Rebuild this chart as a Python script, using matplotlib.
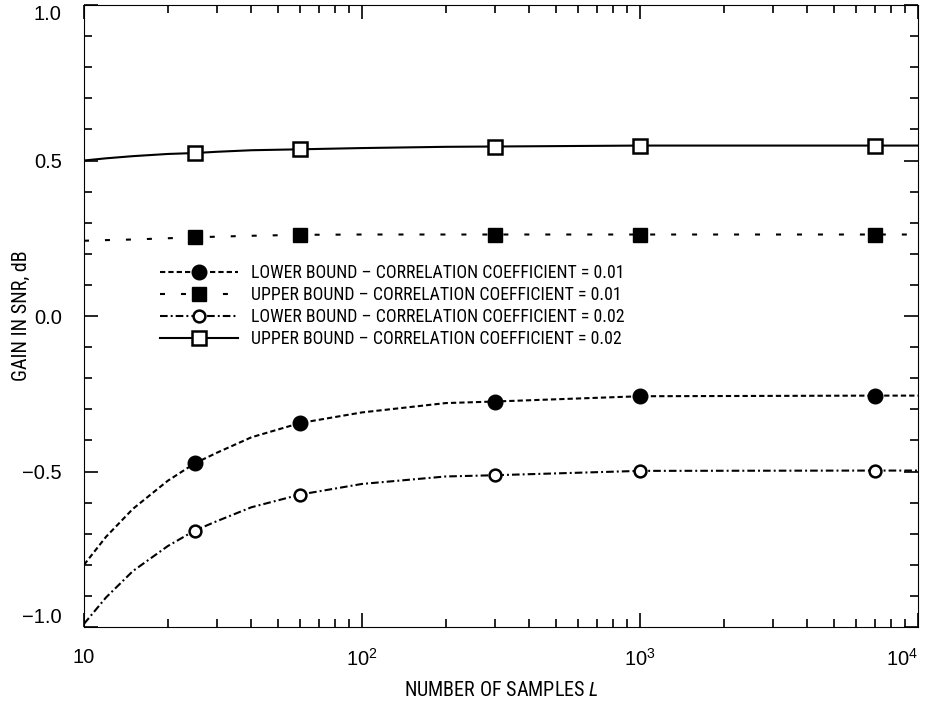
import matplotlib
matplotlib.use("Agg")
import matplotlib.pyplot as plt
from matplotlib.ticker import FixedLocator, LogLocator, NullFormatter, MultipleLocator

plt.rcParams['font.family'] = ['Roboto Condensed', 'Liberation Sans', 'DejaVu Sans']
plt.rcParams['mathtext.fontset'] = 'custom'
plt.rcParams['mathtext.rm'] = 'Liberation Sans'
plt.rcParams['mathtext.it'] = 'Roboto Condensed:italic'
plt.rcParams['lines.scale_dashes'] = False

# ---- data ----
L_curve = [10, 12, 15, 20, 25, 30, 40, 60, 100, 200, 300, 1000, 7000, 10000]
lower_001 = [-0.80, -0.71, -0.62, -0.53, -0.474, -0.44, -0.39, -0.344, -0.31, -0.28, -0.275, -0.258, -0.256, -0.256]
lower_002 = [-0.99, -0.905, -0.82, -0.74, -0.69, -0.66, -0.615, -0.574, -0.54, -0.516, -0.512, -0.498, -0.497, -0.497]
upper_001 = [0.242, 0.244, 0.246, 0.250, 0.253, 0.255, 0.258, 0.261, 0.262, 0.262, 0.262, 0.262, 0.262, 0.262]
upper_002 = [0.500, 0.507, 0.514, 0.521, 0.524, 0.528, 0.533, 0.536, 0.540, 0.544, 0.545, 0.548, 0.548, 0.548]
marker_L = [25, 60, 300, 1000, 7000]

labels = [
    "LOWER BOUND \u2013 CORRELATION COEFFICIENT = 0.01",
    "UPPER BOUND \u2013 CORRELATION COEFFICIENT = 0.01",
    "LOWER BOUND \u2013 CORRELATION COEFFICIENT = 0.02",
    "UPPER BOUND \u2013 CORRELATION COEFFICIENT = 0.02",
]
y_ticks = [-1.0, -0.5, 0.0, 0.5, 1.0]
y_ticklabels = ["\u22121.0", "\u22120.5", "0.0", "0.5", "1.0"]
x_ticks = [10, 100, 1000, 10000]
x_ticklabels = ["10", "$10^2$", "$10^3$", "$10^4$"]

fig = plt.figure(figsize=(9.29, 7.02), dpi=100)
ax = fig.add_axes([84/929, 1-627/702, (918-84)/929, (627-5)/702])

mk_idx = [i for i, v in enumerate(L_curve) if v in marker_L]
lw = 1.5
ax.plot(L_curve, lower_001, color='black', lw=lw, linestyle=(0, (3.8, 2.2)),
        marker='o', markersize=10.5, markerfacecolor='black', markevery=mk_idx, label=labels[0])
ax.plot(L_curve, upper_001, color='black', lw=lw, linestyle=(0, (3.6, 11.5)),
        marker='s', markersize=10, markerfacecolor='black', markevery=mk_idx, label=labels[1])
ax.plot(L_curve, lower_002, color='black', lw=lw, linestyle=(0, (5.5, 2.2, 1.4, 2.2)),
        marker='o', markersize=8.5, markerfacecolor='white', markeredgewidth=1.8,
        markevery=mk_idx, label=labels[2])
ax.plot(L_curve, upper_002, color='black', lw=lw, linestyle='-',
        marker='s', markersize=10.5, markerfacecolor='white', markeredgewidth=1.8,
        markevery=mk_idx, label=labels[3])

ax.set_xscale('log')
ax.set_xlim(10, 10000)
ax.set_ylim(-1.0, 1.0)

ax.xaxis.set_major_locator(FixedLocator(x_ticks))
ax.set_xticklabels(x_ticklabels)
ax.xaxis.set_minor_locator(LogLocator(base=10, subs=range(2, 10)))
ax.xaxis.set_minor_formatter(NullFormatter())
ax.yaxis.set_major_locator(FixedLocator(y_ticks))
ax.set_yticklabels(y_ticklabels)
ax.yaxis.set_minor_locator(MultipleLocator(0.1))

ax.tick_params(which='both', direction='in', top=True, right=True, width=1.2)
ax.tick_params(which='major', length=10, pad=15, labelsize=14.5,
               labelfontfamily='Liberation Sans')
ax.tick_params(which='minor', length=6)
ax.tick_params(axis='y', which='major', pad=16)
xl = ax.get_xticklabels()
xl[-1].set_horizontalalignment('right')
yl = ax.get_yticklabels()
yl[0].set_verticalalignment('bottom')
yl[-1].set_verticalalignment('top')

ax.set_xlabel("NUMBER OF SAMPLES $\\mathit{L}$", fontsize=14.5)
ax.set_ylabel("GAIN IN SNR, dB", fontsize=14.5)
ax.xaxis.set_label_coords(0.5, (627-681)/622)
ax.yaxis.set_label_coords((31-84)/834, 0.5)

leg = ax.legend(loc='upper left', bbox_to_anchor=((160-84)/834, (627-264)/622),
                frameon=False, fontsize=12.8, numpoints=1, handlelength=4.4,
                handletextpad=0.7, labelspacing=0.22, borderpad=0, borderaxespad=0)

fig.savefig("out.png", dpi=100)
